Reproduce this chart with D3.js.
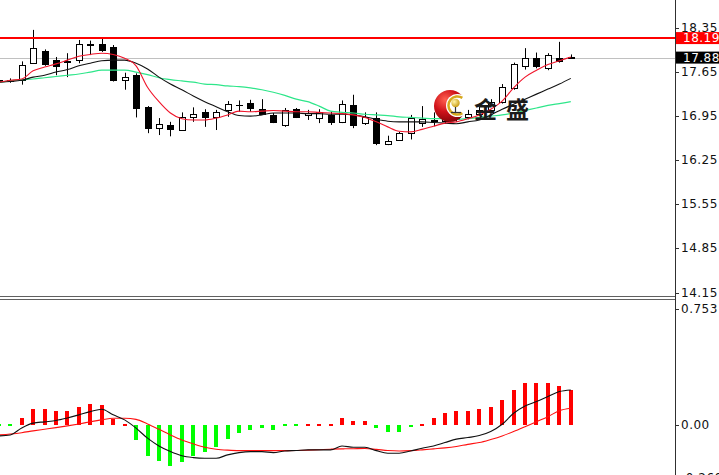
<!DOCTYPE html>
<html><head><meta charset="utf-8">
<script src="https://cdn.jsdelivr.net/npm/d3@7"></script>
<style>html,body{margin:0;padding:0;background:#fff;overflow:hidden}svg{display:block}</style>
</head><body>
<svg id="c" width="719" height="475"></svg>
<script>
// ---- data ----
const openP  = [17.53,17.51,17.53,17.79,17.99,17.84,17.82,17.84,18.08,18.10,18.05,17.53,17.60,17.09,16.77,16.81,16.73,16.93,17.02,16.94,17.04,17.13,17.16,17.06,16.97,16.81,17.06,16.97,16.92,16.97,16.86,17.13,16.84,16.92,16.51,16.57,16.68,16.84,16.89,16.87,16.90,16.93,16.99,17.05,17.18,17.39,17.74,17.87,17.71,17.87,17.89];
const highP  = [17.57,17.55,17.82,18.32,18.01,17.89,17.95,18.16,18.15,18.19,18.08,17.64,17.63,17.11,16.92,16.86,17.01,17.09,17.06,17.05,17.19,17.20,17.21,17.22,17.00,17.08,17.08,17.05,17.06,17.02,17.20,17.29,17.01,17.01,16.64,16.70,16.97,17.11,17.01,16.95,16.98,17.05,17.10,17.22,17.46,17.80,18.03,17.96,17.95,18.13,17.93];
const lowP   = [17.47,17.48,17.45,17.78,17.75,17.60,17.57,17.79,17.92,17.97,17.50,17.37,16.93,16.68,16.65,16.63,16.73,16.86,16.78,16.73,16.94,17.02,17.02,16.97,16.84,16.78,16.92,16.89,16.84,16.81,16.84,16.76,16.81,16.49,16.49,16.56,16.58,16.78,16.79,16.83,16.86,16.90,16.96,17.02,17.15,17.37,17.69,17.71,17.68,17.80,17.86];
const closeP = [17.51,17.53,17.76,18.03,17.78,17.74,17.81,18.10,18.10,18.00,17.53,17.57,17.08,16.76,16.83,16.74,16.94,16.99,16.93,17.02,17.14,17.12,17.08,16.98,16.85,17.04,16.93,17.00,17.01,16.85,17.14,16.81,16.94,16.52,16.56,16.68,16.92,16.90,16.87,16.90,16.93,16.99,17.05,17.18,17.42,17.78,17.87,17.74,17.92,17.82,17.88];
const maRed   = [17.49,17.52,17.54,17.67,17.73,17.78,17.84,17.90,17.93,17.95,17.93,17.87,17.75,17.41,17.18,17.00,16.91,16.89,16.89,16.92,16.97,17.03,17.02,17.03,17.04,17.03,17.02,17.02,17.01,17.00,16.99,16.97,16.93,16.86,16.78,16.71,16.70,16.74,16.79,16.84,16.86,16.91,16.97,17.06,17.19,17.40,17.57,17.68,17.77,17.83,17.89];
const maBlack = [17.49,17.50,17.52,17.57,17.60,17.65,17.69,17.75,17.79,17.83,17.84,17.84,17.79,17.70,17.57,17.46,17.37,17.27,17.18,17.10,17.02,16.96,16.95,16.97,17.00,17.00,17.00,16.99,16.99,16.98,16.98,16.97,16.94,16.90,16.87,16.86,16.86,16.86,16.85,16.84,16.83,16.86,16.89,16.97,17.06,17.14,17.22,17.30,17.38,17.46,17.55];
const maGreen = [17.49,17.51,17.53,17.54,17.56,17.58,17.60,17.62,17.65,17.68,17.68,17.68,17.65,17.61,17.56,17.53,17.51,17.49,17.46,17.45,17.43,17.42,17.40,17.37,17.33,17.28,17.22,17.18,17.11,17.03,17.01,17.00,16.98,16.97,16.96,16.94,16.93,16.92,16.91,16.91,16.90,16.91,16.93,16.95,16.97,17.00,17.04,17.08,17.12,17.15,17.18];
const macdHist = [-0.005,-0.005,0.041,0.099,0.099,0.088,0.088,0.113,0.130,0.124,0.037,0.006,-0.093,-0.190,-0.224,-0.251,-0.230,-0.190,-0.169,-0.134,-0.086,-0.051,-0.031,-0.019,-0.031,-0.006,-0.006,0.006,0.006,0.006,0.041,0.023,0.023,-0.019,-0.045,-0.045,-0.010,0.006,0.041,0.074,0.085,0.088,0.099,0.113,0.154,0.216,0.258,0.258,0.258,0.243,0.216];
const macdLine = [-0.068,-0.062,-0.019,0.011,0.019,0.027,0.043,0.062,0.082,0.097,0.062,0.031,-0.020,-0.082,-0.130,-0.165,-0.191,-0.202,-0.206,-0.206,-0.185,-0.171,-0.165,-0.165,-0.171,-0.161,-0.158,-0.154,-0.154,-0.154,-0.130,-0.138,-0.138,-0.159,-0.175,-0.175,-0.161,-0.144,-0.130,-0.109,-0.088,-0.078,-0.066,-0.041,0.004,0.072,0.117,0.144,0.175,0.206,0.216];
const signalLine = [-0.062,-0.056,-0.048,-0.037,-0.027,-0.017,-0.006,0.006,0.019,0.031,0.041,0.041,0.034,0.006,-0.027,-0.062,-0.093,-0.117,-0.138,-0.150,-0.156,-0.159,-0.159,-0.159,-0.159,-0.159,-0.158,-0.156,-0.153,-0.150,-0.148,-0.147,-0.146,-0.151,-0.158,-0.161,-0.159,-0.154,-0.148,-0.142,-0.133,-0.120,-0.109,-0.090,-0.068,-0.041,-0.011,0.020,0.051,0.088,0.103];
const priceTicks = [18.35,17.65,16.95,16.25,15.55,14.85,14.15];
const macdTicks = [0.753,0.00,-0.260];
const resistance = 18.19;
const lastPrice = 17.88;
const logoText = "金盛";

// ---- drawing ----
const axisX = 675;
const svg = d3.select('#c');
const idx = d3.range(closeP.length);
const x = d3.scaleLinear().domain([0, closeP.length - 1]).range([-1.2, 570.8]);
const y = d3.scaleLinear().domain([14.15, 18.35]).range([292.5, 28]);
const ym = d3.scaleLinear().domain([-0.26, 0.753]).range([467, 303]);
const FONT = "'DejaVu Sans', sans-serif";

const defs = svg.append('defs');
defs.append('clipPath').attr('id','cm').append('rect').attr('x',0).attr('y',0).attr('width',axisX).attr('height',296);
defs.append('clipPath').attr('id','cb').append('rect').attr('x',0).attr('y',301).attr('width',axisX).attr('height',175);
const rg = defs.append('radialGradient').attr('id','rg').attr('cx','35%').attr('cy','30%').attr('r','75%');
rg.append('stop').attr('offset','0%').attr('stop-color','#ff6050');
rg.append('stop').attr('offset','50%').attr('stop-color','#d0121a');
rg.append('stop').attr('offset','100%').attr('stop-color','#800408');
const gg = defs.append('radialGradient').attr('id','gg').attr('cx','35%').attr('cy','35%').attr('r','70%');
gg.append('stop').attr('offset','0%').attr('stop-color','#fff4a8');
gg.append('stop').attr('offset','100%').attr('stop-color','#c89a10');

svg.append('rect').attr('width',719).attr('height',475).attr('fill','#fff');

// main panel
const gm = svg.append('g').attr('clip-path','url(#cm)');
gm.append('line').attr('x1',0).attr('x2',axisX).attr('y1',Math.round(y(lastPrice))+0.5).attr('y2',Math.round(y(lastPrice))+0.5)
  .attr('stroke','#c0c0c0').attr('stroke-width',1);

const cg = gm.append('g');
idx.forEach(i => {
  const cx = Math.round(x(i));
  const o = openP[i], c = closeP[i];
  cg.append('line').attr('x1',cx+0.5).attr('x2',cx+0.5).attr('y1',y(highP[i])).attr('y2',y(lowP[i])).attr('stroke','#000').attr('stroke-width',1);
  const top = Math.round(y(Math.max(o,c))), bot = Math.round(y(Math.min(o,c)));
  cg.append('rect').attr('x',cx-3+0.5).attr('y',top+0.5).attr('width',6).attr('height',Math.max(0.01,bot-top))
    .attr('fill', c >= o ? '#fff' : '#000').attr('stroke','#000').attr('stroke-width',1);
});

const lineGen = arr => d3.line().x((d,i)=>x(i)).y(d=>y(d)).curve(d3.curveMonotoneX)(arr);
gm.append('path').attr('d',lineGen(maGreen)).attr('fill','none').attr('stroke','#2ee68a').attr('stroke-width',1.2);
gm.append('path').attr('d',lineGen(maBlack)).attr('fill','none').attr('stroke','#111').attr('stroke-width',1.1);
gm.append('path').attr('d',lineGen(maRed)).attr('fill','none').attr('stroke','#f0142a').attr('stroke-width',1.1);

gm.append('line').attr('x1',0).attr('x2',axisX).attr('y1',y(resistance)).attr('y2',y(resistance))
  .attr('stroke','#ff0000').attr('stroke-width',2);

// logo
const lg = svg.append('g');
lg.append('circle').attr('cx',450).attr('cy',106).attr('r',16).attr('fill','url(#rg)');
lg.append('circle').attr('cx',457.5).attr('cy',105.5).attr('r',11.5).attr('fill','#fff');
const arc = d3.arc().innerRadius(7.8).outerRadius(10.3).startAngle(Math.PI*0.82).endAngle(Math.PI*2.18);
lg.append('path').attr('d',arc()).attr('transform','translate(457.5,105.5)').attr('fill','#d6a81c');
lg.append('circle').attr('cx',455.5).attr('cy',103).attr('r',4.2).attr('fill','url(#gg)');
lg.append('line').attr('x1',455.5).attr('x2',455.5).attr('y1',107).attr('y2',112).attr('stroke','#333').attr('stroke-width',1.2);
lg.append('line').attr('x1',451).attr('x2',461).attr('y1',112.5).attr('y2',112.5).attr('stroke','#333').attr('stroke-width',1.2);
lg.append('text').attr('x',474).attr('y',118).text(logoText)
  .attr('font-family',"'Noto Sans CJK SC', sans-serif").attr('font-weight','bold').attr('font-size',23)
  .attr('letter-spacing',9).attr('fill','#1a1a1a');

// sub panel (MACD)
const gb = svg.append('g').attr('clip-path','url(#cb)');
idx.forEach(i => {
  const v = macdHist[i];
  const cx = Math.round(x(i));
  const y0 = Math.round(ym(0)), y1 = Math.round(ym(v));
  let top = Math.min(y0,y1), h = Math.abs(y1-y0);
  if (h < 2) { h = 2; top = y0 - 1; }
  gb.append('rect').attr('x',cx-2).attr('y',top).attr('width',4).attr('height',h)
    .attr('fill', v >= 0 ? '#ff0000' : '#00ff00');
});
const lineM = arr => d3.line().x((d,i)=>x(i)).y(d=>ym(d)).curve(d3.curveMonotoneX)(arr);
gb.append('path').attr('d',lineM(signalLine)).attr('fill','none').attr('stroke','#ff1010').attr('stroke-width',1.1);
gb.append('path').attr('d',lineM(macdLine)).attr('fill','none').attr('stroke','#111').attr('stroke-width',1.1);

// separators & axis
svg.append('line').attr('x1',0).attr('x2',axisX).attr('y1',296.5).attr('y2',296.5).attr('stroke','#606060');
svg.append('line').attr('x1',0).attr('x2',axisX).attr('y1',299.5).attr('y2',299.5).attr('stroke','#606060');
svg.append('line').attr('x1',axisX+0.5).attr('x2',axisX+0.5).attr('y1',0).attr('y2',475).attr('stroke','#303030');

// price axis
const pa = svg.append('g');
priceTicks.forEach(t => {
  const yy = Math.round(y(t))+0.5;
  pa.append('line').attr('x1',axisX).attr('x2',axisX+4).attr('y1',yy).attr('y2',yy).attr('stroke','#303030');
  pa.append('text').attr('x',681).attr('y',y(t)).attr('dominant-baseline','central')
    .attr('font-family',FONT).attr('font-size',12).attr('letter-spacing',0.5).attr('fill','#111').text(t.toFixed(2));
});
function tag(v, bg) {
  const yy = y(v);
  pa.append('rect').attr('x',axisX+1).attr('y',yy-6).attr('width',43).attr('height',12).attr('fill',bg);
  pa.append('text').attr('x',683).attr('y',yy).attr('dominant-baseline','central')
    .attr('font-family',FONT).attr('font-size',12).attr('letter-spacing',0.5).attr('fill','#fff').text(v.toFixed(2));
}
tag(resistance,'#ff0000');
tag(lastPrice,'#000');

// macd axis
const ma = svg.append('g');
const labelY = {"0.753": 309, "0.00": ym(0), "-0.260": 478};
macdTicks.forEach(t => {
  const s = t === 0 ? '0.00' : t.toFixed(3);
  const yy = labelY[s];
  ma.append('line').attr('x1',axisX).attr('x2',axisX+4).attr('y1',Math.round(yy)+0.5).attr('y2',Math.round(yy)+0.5).attr('stroke','#303030');
  ma.append('text').attr('x',681).attr('y',yy).attr('dominant-baseline','central')
    .attr('font-family',FONT).attr('font-size',12).attr('letter-spacing',0.5).attr('fill','#111').text(s);
});
</script>
</body></html>
